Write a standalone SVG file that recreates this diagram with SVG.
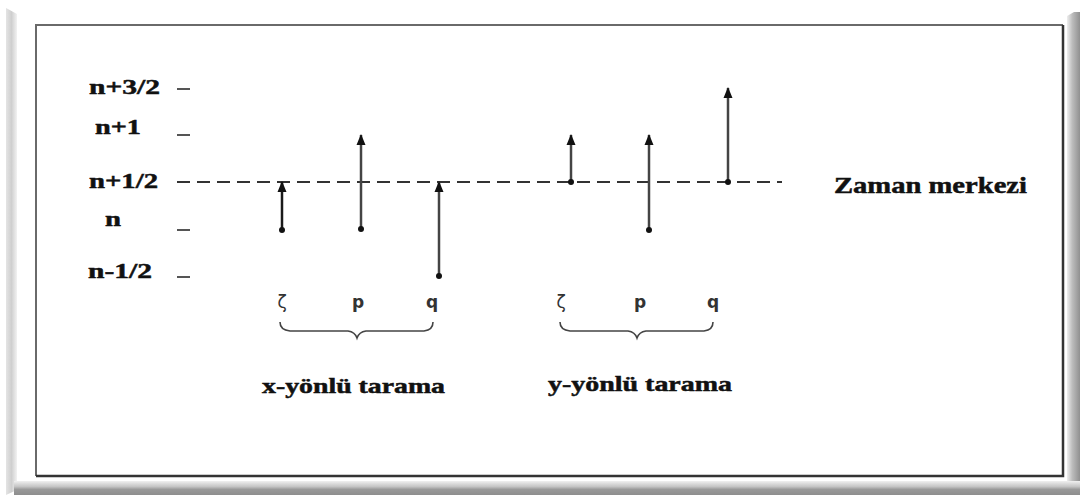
<svg xmlns="http://www.w3.org/2000/svg" width="1080" height="495" viewBox="0 0 1080 495">
  <style>
    .lvl { font-family: "Liberation Serif", "Times New Roman", serif; font-weight: bold; font-size: 22px; fill: #111; stroke: #111; stroke-width: 0.5; }
    .var { font-family: "DejaVu Sans", "Liberation Sans", sans-serif; font-weight: bold; font-size: 17px; fill: #333; text-anchor: middle; }
    .zeta { font-weight: normal; }
    .tick { stroke: #555; stroke-width: 2; }
    .stem { stroke: #444; stroke-width: 2.5; fill: none; marker-end: url(#head); }
    .dot { fill: #111; }
    .brace { stroke: #444; stroke-width: 1.6; fill: none; }
  </style>
  <defs>
    <!-- filled triangular arrowhead, tip at the end of the stem -->
    <marker id="head" markerUnits="userSpaceOnUse" markerWidth="11" markerHeight="10" viewBox="0 0 11 10" refX="10" refY="5" orient="auto">
      <path d="M0,0.5 L11,5 L0,9.5 Z" fill="#111"/>
    </marker>
    <linearGradient id="leftEdge" x1="0" y1="0" x2="1" y2="0">
      <stop offset="0" stop-color="#e4e4e4"/>
      <stop offset="0.5" stop-color="#cfcfcf"/>
      <stop offset="1" stop-color="#f2f2f2"/>
    </linearGradient>
    <linearGradient id="rightEdge" x1="0" y1="0" x2="1" y2="0">
      <stop offset="0" stop-color="#eeeeee"/>
      <stop offset="0.4" stop-color="#bdbdbd"/>
      <stop offset="1" stop-color="#909090"/>
    </linearGradient>
    <linearGradient id="bottomEdge" x1="0" y1="0" x2="0" y2="1">
      <stop offset="0" stop-color="#f0f0f0"/>
      <stop offset="0.4" stop-color="#c4c4c4"/>
      <stop offset="0.6" stop-color="#999"/>
      <stop offset="1" stop-color="#8e8e8e"/>
    </linearGradient>
  </defs>

  <!-- page background and bevelled frame -->
  <rect x="0" y="0" width="1080" height="495" fill="#fff"/>
  <g id="frame">
    <path d="M6,8 L17,14 L17,490 L6,495 Z" fill="url(#leftEdge)"/>
    <path d="M1067,16 L1074,12 L1080,12 L1080,495 L1067,495 Z" fill="url(#rightEdge)"/>
    <path d="M14,481 L1080,481 L1080,495 L14,495 Z" fill="url(#bottomEdge)"/>
    <rect x="36" y="25" width="1027" height="451" fill="#fff"/>
    <path d="M36,476 L36,25 L1063,25" fill="none" stroke="#6a6a6a" stroke-width="2"/>
    <path d="M1063,25 L1063,476 L36,476" fill="none" stroke="#333" stroke-width="2.5"/>
  </g>

  <!-- time levels -->
  <g id="levels">
    <text class="lvl" x="89" y="94" textLength="71" lengthAdjust="spacingAndGlyphs">n+3/2</text>
    <text class="lvl" x="95" y="134" textLength="46" lengthAdjust="spacingAndGlyphs">n+1</text>
    <text class="lvl" x="89" y="188" textLength="69" lengthAdjust="spacingAndGlyphs">n+1/2</text>
    <text class="lvl" x="105" y="226" textLength="16" lengthAdjust="spacingAndGlyphs">n</text>
    <text class="lvl" x="88" y="278" textLength="64" lengthAdjust="spacingAndGlyphs">n-1/2</text>
    <line class="tick" x1="177" y1="89" x2="190" y2="89"/>
    <line class="tick" x1="177" y1="135" x2="190" y2="135"/>
    <line class="tick" x1="177" y1="230" x2="190" y2="230"/>
    <line class="tick" x1="177" y1="277" x2="190" y2="277"/>
  </g>

  <!-- time centre line -->
  <g id="center-line">
    <line x1="177" y1="182" x2="782" y2="182" stroke="#333" stroke-width="2" stroke-dasharray="13 7"/>
    <text class="lvl" x="834" y="193" textLength="193" lengthAdjust="spacingAndGlyphs" style="font-size:24px">Zaman merkezi</text>
  </g>

  <!-- update steps -->
  <g id="connectors">
    <line class="stem" x1="282" y1="229" x2="282" y2="182" style="stroke:#1a1a1a"/>
    <line class="stem" x1="361" y1="229" x2="361" y2="135"/>
    <line class="stem" x1="439" y1="276" x2="439" y2="182"/>
    <line class="stem" x1="571" y1="182" x2="571" y2="135"/>
    <line class="stem" x1="649" y1="230" x2="649" y2="135"/>
    <line class="stem" x1="728" y1="182" x2="728" y2="88"/>
    <circle class="dot" cx="282" cy="230" r="3"/>
    <circle class="dot" cx="361" cy="229" r="3"/>
    <circle class="dot" cx="439" cy="276" r="3"/>
    <circle class="dot" cx="571" cy="182" r="3"/>
    <circle class="dot" cx="649" cy="230" r="3"/>
    <circle class="dot" cx="728" cy="182" r="3"/>
  </g>

  <!-- x-direction sweep -->
  <g id="x-sweep">
    <text class="var zeta" x="282" y="308">ζ</text>
    <text class="var" x="358" y="308">p</text>
    <text class="var" x="432" y="308">q</text>
    <path class="brace" d="M280,322 Q280,330 290,331 L348,331 Q355,332 357,338 Q359,332 366,331 L424,331 Q433,330 433,322"/>
    <text class="lvl" x="262" y="393" textLength="183" lengthAdjust="spacingAndGlyphs">x-yönlü tarama</text>
  </g>

  <!-- y-direction sweep -->
  <g id="y-sweep">
    <text class="var zeta" x="561" y="308">ζ</text>
    <text class="var" x="640" y="308">p</text>
    <text class="var" x="713" y="308">q</text>
    <path class="brace" d="M560,322 Q560,330 570,331 L628,331 Q635,332 637,338 Q639,332 646,331 L704,331 Q713,330 713,322"/>
    <text class="lvl" x="548" y="391" textLength="184" lengthAdjust="spacingAndGlyphs">y-yönlü tarama</text>
  </g>
</svg>
